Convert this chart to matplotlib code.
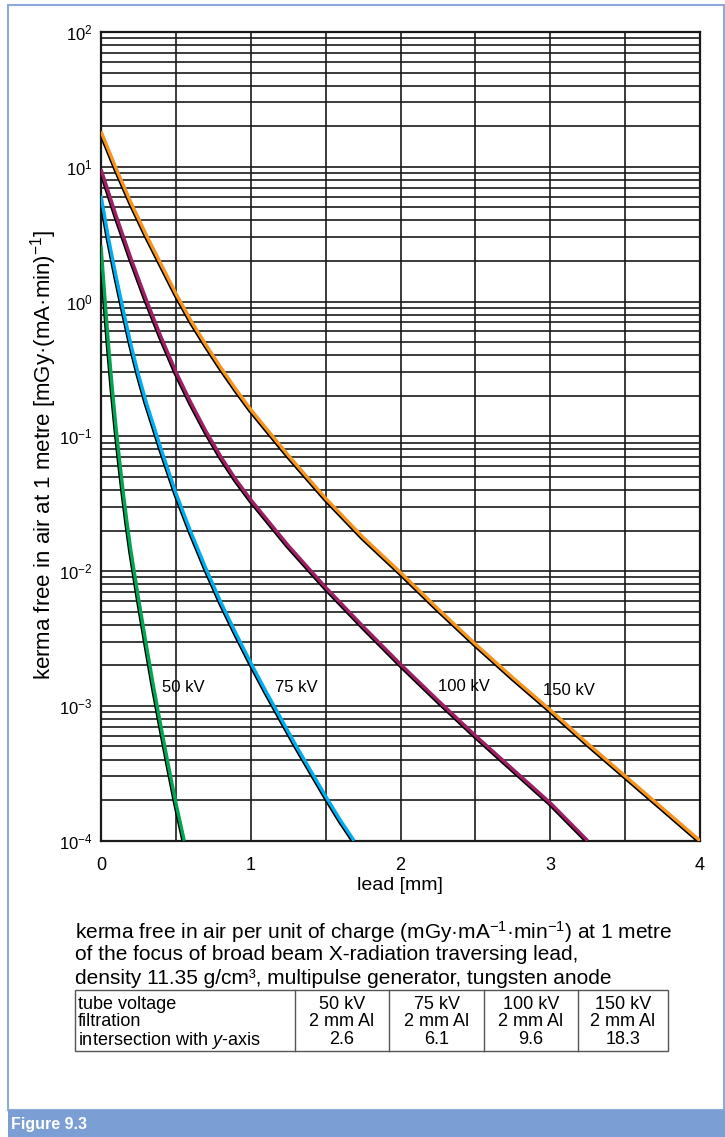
import numpy as np
import matplotlib
matplotlib.use("Agg")
import matplotlib.pyplot as plt
import matplotlib.patheffects as pe
from matplotlib.patches import Rectangle
from matplotlib.lines import Line2D
from matplotlib.ticker import LogLocator, MultipleLocator, NullFormatter

plt.rcParams["font.family"] = ["Liberation Sans", "DejaVu Sans"]
plt.rcParams["mathtext.fontset"] = "custom"
plt.rcParams["mathtext.rm"] = "Liberation Sans"
plt.rcParams["mathtext.it"] = "Liberation Sans:italic"
plt.rcParams["mathtext.default"] = "regular"

W, H = 725, 1137


def fx(px):
    return px / W


def fy(py):
    return 1 - py / H


# curves: lead thickness [mm] -> kerma [mGy/(mA min)]
lead_50 = [0, 0.025, 0.05, 0.075, 0.1, 0.125, 0.15, 0.175, 0.2, 0.25, 0.3,
           0.35, 0.4, 0.45, 0.5, 0.556]
kerma_50 = [2.6, 1.10, 0.479, 0.229, 0.1175, 0.0646, 0.0372, 0.0224, 0.0141,
            0.00631, 0.00295, 0.00141, 7.08e-4, 3.63e-4, 1.91e-4, 1e-4]

lead_75 = [0, 0.05, 0.1, 0.15, 0.2, 0.25, 0.3, 0.4, 0.5, 0.6, 0.7, 0.8, 0.9,
           1.0, 1.1, 1.2, 1.3, 1.4, 1.5, 1.6, 1.69]
kerma_75 = [6.1, 2.95, 1.55, 0.851, 0.479, 0.288, 0.182, 0.0813, 0.038, 0.0195,
            0.0105, 0.00589, 0.00347, 0.00209, 0.00129, 8.13e-4, 5.13e-4,
            3.31e-4, 2.14e-4, 1.41e-4, 1e-4]

lead_100 = [0, 0.1, 0.2, 0.3, 0.4, 0.5, 0.6, 0.7, 0.8, 0.9, 1.0, 1.25, 1.5,
            1.75, 2.0, 2.25, 2.5, 2.75, 3.0, 3.25]
kerma_100 = [9.6, 4.37, 2.09, 1.047, 0.55, 0.302, 0.178, 0.1096, 0.0708, 0.0479,
             0.0339, 0.0155, 0.00759, 0.00389, 0.00204, 0.0011, 6.03e-4,
             3.39e-4, 1.91e-4, 1e-4]

lead_150 = [0, 0.1, 0.2, 0.3, 0.4, 0.5, 0.6, 0.7, 0.8, 0.9, 1.0, 1.25, 1.5,
            1.75, 2.0, 2.25, 2.5, 2.75, 3.0, 3.25, 3.5, 3.75, 4.0]
kerma_150 = [18.3, 9.77, 5.43, 3.16, 1.905, 1.148, 0.724, 0.479, 0.324, 0.224,
             0.158, 0.0724, 0.0347, 0.0178, 0.00977, 0.00525, 0.00288, 0.00162,
             9.33e-4, 5.25e-4, 3.02e-4, 1.74e-4, 1e-4]

curve_labels = ["50 kV", "75 kV", "100 kV", "150 kV"]
label_x = [0.41, 1.16, 2.25, 2.95]
label_y = [1.37e-3, 1.37e-3, 1.40e-3, 1.30e-3]
colors = ["#00a651", "#00aeef", "#9e1f63", "#f7941d"]

# table below the chart
row_names = ["tube voltage", "filtration", "intersection with $\\mathit{y}$-axis"]
tube_voltage = ["50 kV", "75 kV", "100 kV", "150 kV"]
filtration = ["2 mm Al", "2 mm Al", "2 mm Al", "2 mm Al"]
intersection = ["2.6", "6.1", "9.6", "18.3"]

caption = [
    "kerma free in air per unit of charge (mGy·mA$^{-1}$·min$^{-1}$) at 1 metre",
    "of the focus of broad beam X-radiation traversing lead,",
    "density 11.35 g/cm³, multipulse generator, tungsten anode",
]

fig = plt.figure(figsize=(7.25, 11.37), dpi=100)
ax = fig.add_axes([fx(101), fy(840.7), fx(700) - fx(101), fy(32) - fy(840.7)])

ax.set_yscale("log")
ax.set_xlim(0, 4)
ax.set_ylim(1e-4, 1e2)

yt = [1e-4, 1e-3, 1e-2, 1e-1, 1e0, 1e1, 1e2]
ax.set_yticks(yt)
ax.set_yticklabels([r"$10^{%d}$" % int(np.log10(v)) for v in yt])
ax.yaxis.set_minor_locator(LogLocator(base=10, subs=range(2, 10)))
ax.yaxis.set_minor_formatter(NullFormatter())
ax.set_xticks([0, 1, 2, 3, 4])
ax.xaxis.set_minor_locator(MultipleLocator(0.5))
ax.tick_params(which="both", length=0)
ax.tick_params(axis="y", pad=6, labelsize=12)
ax.tick_params(axis="x", pad=12, labelsize=13)

ax.grid(which="both", color="#1a1a1a", lw=1.2)
for s in ax.spines.values():
    s.set_linewidth(1.6)
    s.set_color("#1a1a1a")

series = [(lead_50, kerma_50), (lead_75, kerma_75),
          (lead_100, kerma_100), (lead_150, kerma_150)]
for (xs, ys), c in zip(series, colors):
    ax.plot(xs, ys, color=c, lw=2.4, solid_capstyle="butt", solid_joinstyle="round",
            zorder=3,
            path_effects=[pe.Stroke(linewidth=2.4, foreground="black", offset=(-0.8, -0.8)),
                          pe.Normal()])

for lab, lx, ly in zip(curve_labels, label_x, label_y):
    ax.text(lx, ly, lab, fontsize=12, ha="left", va="center", zorder=4)

fig.text(fx(400), fy(886), "lead [mm]", fontsize=14, ha="center", va="center")
fig.text(fx(44), fy(455), "kerma free in air at 1 metre [mGy·(mA·min)$^{-1}$]",
         fontsize=16, rotation=90, ha="center", va="center")

for i, line in enumerate(caption):
    fig.text(fx(75), fy(932 + 23 * i), line, fontsize=15, ha="left", va="center")

# table
tx = [75, 295, 389, 484, 578, 668]
ttop, tbot = 990, 1051
fig.patches.append(Rectangle((fx(tx[0]), fy(tbot)), fx(tx[-1]) - fx(tx[0]), fy(ttop) - fy(tbot),
                             transform=fig.transFigure, fill=False, ec="#555555", lw=1.0))
for x in tx[1:-1]:
    fig.lines.append(Line2D([fx(x), fx(x)], [fy(ttop), fy(tbot)],
                            transform=fig.transFigure, color="#555555", lw=1.0))
rows = [tube_voltage, filtration, intersection]
for r, (name, vals) in enumerate(zip(row_names, rows)):
    yy = fy(1020 + 17.5 * (r - 1))
    fig.text(fx(78), yy, name, fontsize=13, ha="left", va="center_baseline")
    for j, v in enumerate(vals):
        fig.text(fx((tx[j + 1] + tx[j + 2]) / 2), yy, v, fontsize=13,
                 ha="center", va="center_baseline")

# frame and caption band
fig.patches.append(Rectangle((fx(8), fy(1110)), fx(724) - fx(8), fy(5) - fy(1110),
                             transform=fig.transFigure, fill=False, ec="#8eaadb", lw=1.5))
fig.patches.append(Rectangle((fx(8), 0), 1 - fx(8), fy(1110),
                             transform=fig.transFigure, fc="#7b9fd4", ec="none"))
fig.text(fx(11), fy(1124), "Figure 9.3", fontsize=11.5, fontweight="bold", color="white",
         ha="left", va="center")

fig.savefig("out.png", dpi=100)
